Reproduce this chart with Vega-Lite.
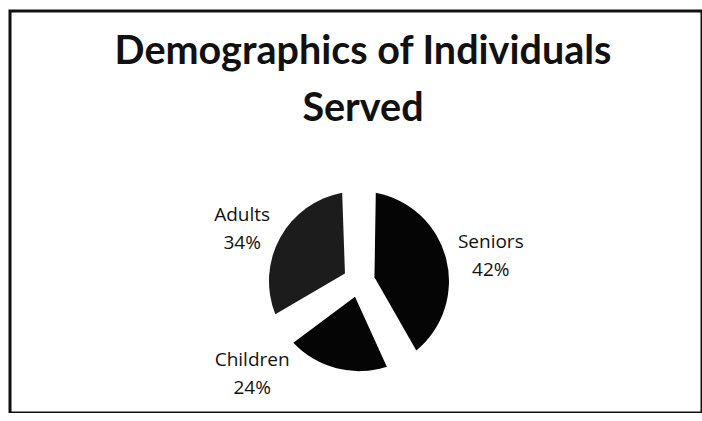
{
  "$schema": "https://vega.github.io/schema/vega-lite/v6.json",
  "autosize": "none",
  "width": 692,
  "height": 402,
  "padding": {"left": 10, "top": 11, "right": 0, "bottom": 0},
  "background": "white",
  "config": {"view": {"stroke": "#111111", "strokeWidth": 3}},
  "title": {
    "text": ["Demographics of Individuals", "Served"],
    "font": "Lato",
    "fontSize": 39.5,
    "fontWeight": "bold",
    "color": "#111111",
    "anchor": "middle",
    "frame": "group",
    "baseline": "top",
    "lineHeight": 57,
    "offset": -118,
    "dx": 7
  },
  "data": {
    "values": [
      {"category": "Seniors", "value": 42},
      {"category": "Children", "value": 24},
      {"category": "Adults", "value": 34}
    ]
  },
  "transform": [
    {"calculate": "datum.category + '\\n' + datum.value + '%'", "as": "label"}
  ],
  "encoding": {
    "theta": {"field": "value", "type": "quantitative", "stack": true},
    "order": {"field": "category", "sort": "descending"},
    "x": {"datum": 0.5043, "type": "quantitative", "scale": {"domain": [0, 1]}, "axis": null},
    "y": {"datum": 0.328, "type": "quantitative", "scale": {"domain": [0, 1]}, "axis": null}
  },
  "layer": [
    {
      "mark": {"type": "arc", "outerRadius": 90, "innerRadius": 16, "padAngle": 0.37},
      "encoding": {
        "fill": {
          "field": "category",
          "type": "nominal",
          "scale": {"domain": ["Seniors", "Children", "Adults"], "range": ["#050505", "#050505", "#1c1c1c"]},
          "legend": null
        }
      }
    },
    {
      "mark": {"type": "text", "radius": 133, "dx": 3, "dy": -6, "font": "Open Sans", "fontSize": 19, "lineBreak": "\n", "lineHeight": 28, "color": "#111111", "align": "center", "baseline": "middle"},
      "encoding": {
        "text": {"condition": {"test": "datum.category === 'Seniors'", "field": "label"}, "value": ""}
      }
    },
    {
      "mark": {"type": "text", "radius": 131, "dx": -2, "dy": -3, "font": "Open Sans", "fontSize": 19, "lineBreak": "\n", "lineHeight": 28, "color": "#111111", "align": "center", "baseline": "middle"},
      "encoding": {
        "text": {"condition": {"test": "datum.category === 'Adults'", "field": "label"}, "value": ""}
      }
    },
    {
      "mark": {"type": "text", "radius": 142, "thetaOffset": 0.6, "dy": -15, "font": "Open Sans", "fontSize": 19, "lineBreak": "\n", "lineHeight": 28, "color": "#111111", "align": "center", "baseline": "middle"},
      "encoding": {
        "text": {"condition": {"test": "datum.category === 'Children'", "field": "label"}, "value": ""}
      }
    }
  ]
}
